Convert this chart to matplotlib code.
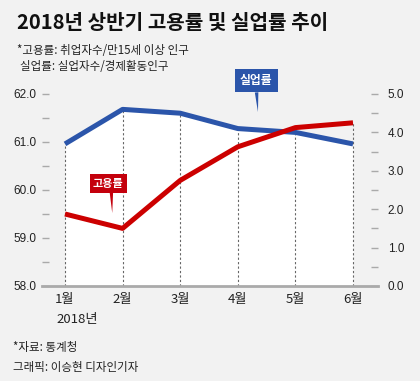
import numpy as np
import matplotlib.pyplot as plt
from matplotlib.ticker import MultipleLocator

plt.rcParams['font.family'] = ['Noto Sans CJK KR', 'DejaVu Sans']

# data
months = ['1월', '2월', '3월', '4월', '5월', '6월']
employment = [59.5, 59.2, 60.2, 60.9, 61.3, 61.4]   # 고용률, left axis
unemployment = [3.7, 4.6, 4.5, 4.1, 4.0, 3.7]        # 실업률, right axis
left_ticks = [58.0, 59.0, 60.0, 61.0, 62.0]
right_ticks = [0.0, 1.0, 2.0, 3.0, 4.0, 5.0]

BG = '#f2f2f2'
BLUE = '#2b55aa'
RED = '#cc0000'
GRAY = '#aaaaaa'
W, H = 420, 381

fig = plt.figure(figsize=(W / 100, H / 100), dpi=100)
fig.patch.set_facecolor(BG)

# axes box in pixels: x 42..378, y 94..286
ax2 = fig.add_axes([42 / W, 1 - 286 / H, (378 - 42) / W, (286 - 94) / H])
ax = ax2.twinx()
ax.set_zorder(ax2.get_zorder() + 1)
ax.patch.set_visible(False)
ax2.set_facecolor(BG)

x = np.arange(len(months))
xmin, xmax = -23 / 57.6, 5 + 25 / 57.6

# white area under the unemployment line
ax2.fill_between(x, unemployment, 0, color='white', lw=0, zorder=1)

# dotted guides from the upper line down to the axis
emp_on_right = [(v - 58) / 4 * 5 for v in employment]
tops = np.maximum(unemployment, emp_on_right)
ax2.vlines(x, 0, tops, colors='#666666', linestyles=(0, (2, 2)), lw=0.8, zorder=2)

ax2.plot(x, unemployment, color=BLUE, lw=3.6, solid_capstyle='butt', zorder=3)
ax.plot(x, employment, color=RED, lw=3.6, solid_capstyle='butt', zorder=3)

ax2.set_xlim(xmin, xmax)
ax2.set_ylim(0, 5)
ax.set_ylim(58, 62)

# ax (twinx) puts its ticks on the right; swap so left scale is 고용률
ax.yaxis.set_ticks_position('left')
ax.yaxis.set_label_position('left')
ax2.yaxis.set_ticks_position('right')

for s in ['top', 'left', 'right', 'bottom']:
    ax.spines[s].set_visible(False)
    ax2.spines[s].set_visible(False)
ax2.spines['bottom'].set_visible(True)
ax2.spines['bottom'].set_color(GRAY)
ax2.spines['bottom'].set_linewidth(2)

ax.set_yticks(left_ticks)
ax.set_yticklabels([f'{v:.1f}' for v in left_ticks], family='Liberation Sans')
ax.yaxis.set_minor_locator(MultipleLocator(0.5))
ax2.set_yticks(right_ticks)
ax2.set_yticklabels([f'{v:.1f}' for v in right_ticks], family='Liberation Sans')
ax2.yaxis.set_minor_locator(MultipleLocator(0.5))

for a in (ax, ax2):
    a.tick_params(axis='y', which='both', direction='in', length=5, width=1,
                  color=GRAY, labelsize=8.5, labelcolor='#222222')
ax.tick_params(axis='y', pad=4)
ax2.tick_params(axis='y', pad=7)

ax2.set_xticks(x)
ax2.set_xticklabels(months, fontsize=9.5, color='#222222')
ax2.tick_params(axis='x', length=0, pad=5)

# callouts
ax2.annotate('실업률', xy=(3.35, 4.53), xytext=(3.32, 5.35), textcoords='data',
             ha='center', va='center', fontsize=8.5, fontweight='bold', color='white',
             bbox=dict(boxstyle='square,pad=0.45', fc=BLUE, ec='none'),
             arrowprops=dict(arrowstyle='wedge,tail_width=0.3', fc=BLUE, ec='none',
                             shrinkA=0, shrinkB=0, relpos=(0.5, 0.0)),
             annotation_clip=False, zorder=5)
ax.annotate('고용률', xy=(0.82, 59.52), xytext=(0.75, 60.14), textcoords='data',
            ha='center', va='center', fontsize=8, fontweight='bold', color='white',
            bbox=dict(boxstyle='square,pad=0.28', fc='#c4000c', ec='none'),
            arrowprops=dict(arrowstyle='wedge,tail_width=0.3', fc='#c4000c', ec='none',
                            shrinkA=0, shrinkB=0, relpos=(0.6, 0.0)),
            annotation_clip=False, zorder=5)

# texts
def ftext(px, py, s, **kw):
    fig.text(px / W, 1 - py / H, s, va='center', **kw)

ftext(17, 22.5, '2018년 상반기 고용률 및 실업률 추이', fontsize=14.5, fontweight='bold', color='#111111')
ftext(17, 50, '*고용률: 취업자수/만15세 이상 인구', fontsize=8.3, color='#222222')
ftext(20, 66.5, '실업률: 실업자수/경제활동인구', fontsize=8.3, color='#222222')
ftext(77, 319, '2018년', fontsize=9.5, color='#222222', ha='center')
ftext(13, 348, '*자료: 통계청', fontsize=8.3, color='#222222')
ftext(13, 367.5, '그래픽: 이승현 디자인기자', fontsize=8.3, color='#222222')

fig.savefig('out.png', dpi=100, facecolor=BG)
